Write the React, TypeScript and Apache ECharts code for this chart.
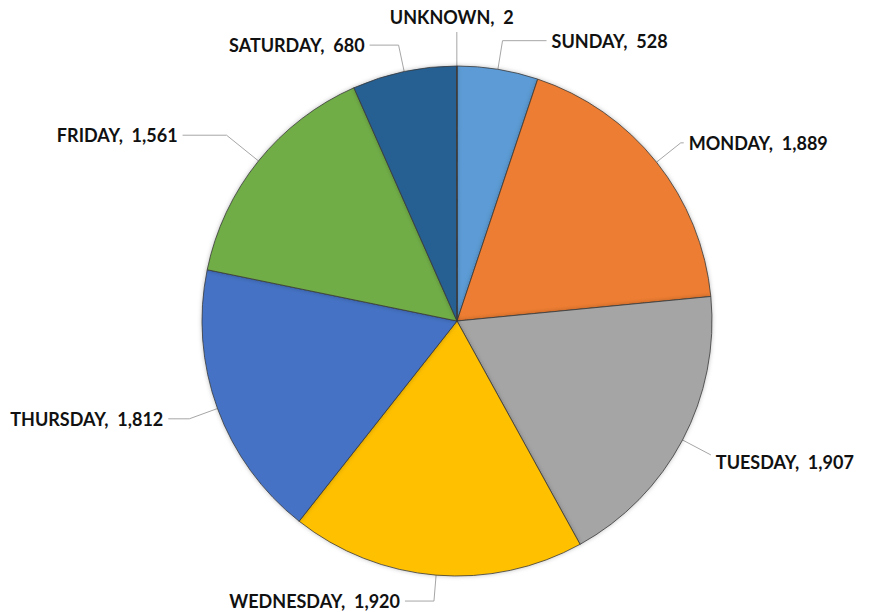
import React, { useEffect, useRef } from "react";
import * as echarts from "echarts";

const categories = ["SUNDAY", "MONDAY", "TUESDAY", "WEDNESDAY", "THURSDAY", "FRIDAY", "SATURDAY", "UNKNOWN"];
const values = [528, 1889, 1907, 1920, 1812, 1561, 680, 2];
const colors = ["#5B9BD5", "#ED7D31", "#A5A5A5", "#FFC000", "#4472C4", "#70AD47", "#255E91", "#9E480E"];
// leader line lengths per slice (radial part, horizontal part)
const lineLen = [29, 31, 32, 26, 30, 41, 27, 34];
const lineLen2 = [44, 3, 0, 29, 21, 44, 29, 0];

export default function App() {
  const ref = useRef<HTMLDivElement>(null);
  useEffect(() => {
    if (!ref.current) return;
    const chart = echarts.init(ref.current, null, { renderer: "svg" });
    const data = categories.map((name, i) => ({
      name,
      value: values[i],
      itemStyle: { color: colors[i] },
      labelLine: { length: lineLen[i], length2: lineLen2[i] },
    }));
    chart.setOption({
      animation: false,
      backgroundColor: "#ffffff",
      series: [
        {
          type: "pie",
          center: [457, 321],
          radius: 255,
          startAngle: 90,
          clockwise: true,
          avoidLabelOverlap: false,
          data,
          itemStyle: {
            borderColor: "#3a3a3a",
            borderWidth: 0.8,
            shadowBlur: 4,
            shadowColor: "rgba(0,0,0,0.25)",
          },
          label: {
            show: true,
            position: "outside",
            fontFamily: "Lato",
            fontWeight: "bold",
            fontSize: 18,
            color: "#111111",
            overflow: "none",
            distanceToLabelLine: 5,
            formatter: (p: any) => `${p.name},  ${Number(p.value).toLocaleString("en-US")}`,
          },
          labelLine: {
            show: true,
            lineStyle: { color: "#a6a6a6", width: 1 },
          },
          labelLayout: (p: any) => {
            if (p.dataIndex === 7) {
              return { align: "center", dy: -15 };
            }
            if (p.dataIndex === 2) {
              return { dy: 7 };
            }
            return {};
          },
          emphasis: { disabled: true },
        },
      ],
    });
    return () => chart.dispose();
  }, []);
  return <div ref={ref} style={{ position: "fixed", left: 0, top: 0, width: 870, height: 612 }} />;
}
